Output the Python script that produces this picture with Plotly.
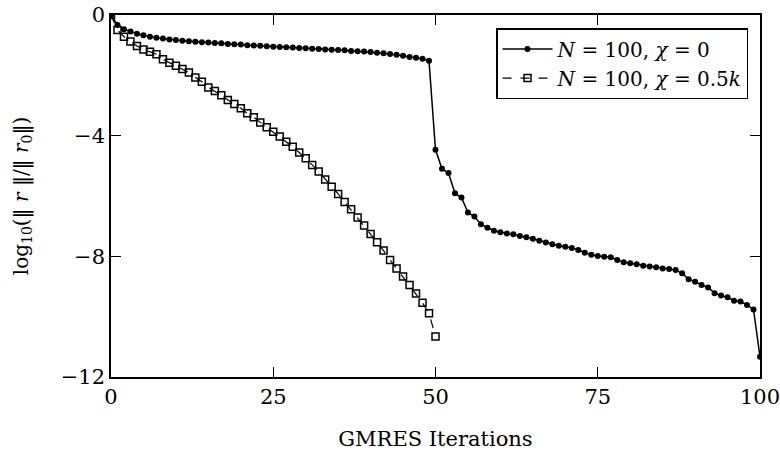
import plotly.graph_objects as go

iters_a = list(range(0, 101))
resid_a = [0.0, -0.33, -0.47, -0.55, -0.62, -0.67, -0.72, -0.75, -0.78, -0.81,
           -0.83, -0.85, -0.87, -0.89, -0.90, -0.91, -0.93, -0.94, -0.96, -0.97,
           -0.98, -1.00, -1.01, -1.02, -1.04, -1.05, -1.06, -1.07, -1.08, -1.09,
           -1.10, -1.12, -1.13, -1.14, -1.15, -1.16, -1.17, -1.19, -1.20, -1.21,
           -1.23, -1.25, -1.27, -1.29, -1.32, -1.35, -1.39, -1.42, -1.45, -1.52,
           -4.47, -5.10, -5.24, -5.91, -6.05, -6.55, -6.68, -6.94, -7.05, -7.15,
           -7.20, -7.24, -7.27, -7.33, -7.37, -7.42, -7.48, -7.54, -7.60, -7.65,
           -7.68, -7.72, -7.79, -7.88, -7.95, -7.99, -8.01, -8.03, -8.12, -8.20,
           -8.23, -8.26, -8.31, -8.34, -8.36, -8.40, -8.42, -8.45, -8.56, -8.76,
           -8.84, -8.95, -9.03, -9.22, -9.30, -9.36, -9.47, -9.50, -9.61, -9.76,
           -11.33]

iters_b = list(range(0, 51))
resid_b = [0.0, -0.50, -0.72, -0.88, -1.03, -1.14, -1.22, -1.30, -1.47, -1.58,
           -1.68, -1.79, -1.91, -2.07, -2.21, -2.40, -2.52, -2.66, -2.82, -2.95,
           -3.09, -3.26, -3.39, -3.56, -3.72, -3.87, -4.03, -4.20, -4.37, -4.56,
           -4.75, -4.97, -5.19, -5.45, -5.69, -5.93, -6.20, -6.44, -6.71, -6.98,
           -7.26, -7.53, -7.81, -8.12, -8.40, -8.67, -8.95, -9.23, -9.54, -9.89,
           -10.66]

x_ticks = [0, 25, 50, 75, 100]
y_ticks = [0, -4, -8, -12]

FONT = "DejaVu Serif"

fig = go.Figure()
fig.add_trace(go.Scatter(
    x=iters_a, y=resid_a, mode="lines+markers",
    name="<i>N</i> = 100, <i>χ</i> = 0",
    line=dict(color="black", width=1.5),
    marker=dict(symbol="circle", size=6, color="black"),
))
fig.add_trace(go.Scatter(
    x=iters_b, y=resid_b, mode="lines+markers",
    name="<i>N</i> = 100, <i>χ</i> = 0.5<i>k</i>",
    line=dict(color="black", width=1.2, dash="dash"),
    marker=dict(symbol="square-open", size=7, color="black",
                line=dict(width=1.5, color="black")),
))

axis_common = dict(
    showgrid=False, zeroline=False, showline=True, linecolor="black",
    linewidth=1.5, mirror="allticks", ticks="inside", ticklen=10,
    tickwidth=1.2, tickcolor="black", automargin=False,
    ticklabeloverflow="allow",
    tickfont=dict(family=FONT, size=21, color="black"),
)

fig.update_layout(
    width=780, height=451,
    margin=dict(l=111, r=20, t=15, b=74),
    paper_bgcolor="white", plot_bgcolor="white",
    font=dict(family=FONT, size=19, color="black"),
    showlegend=True,
    legend=dict(
        x=0.982, y=0.963, xanchor="right", yanchor="top",
        bordercolor="black", borderwidth=1.2, bgcolor="white",
        font=dict(family=FONT, size=20, color="black"),
        tracegroupgap=0, itemwidth=50,
    ),
    xaxis=dict(range=[0, 100], tickvals=x_ticks,
               ticktext=[str(v) for v in x_ticks],
               title=dict(text="GMRES Iterations", standoff=24,
                          font=dict(family=FONT, size=21)),
               **axis_common),
    yaxis=dict(range=[-12, 0], tickvals=y_ticks,
               ticktext=["0", "−4", "−8", "−12"],
               title=dict(text="log<sub>10</sub>(‖ <i>r</i> ‖/‖ <i>r</i><sub>0</sub>‖)",
                          standoff=27, font=dict(family=FONT, size=20)),
               **axis_common),
)

fig.write_html("out.html")
